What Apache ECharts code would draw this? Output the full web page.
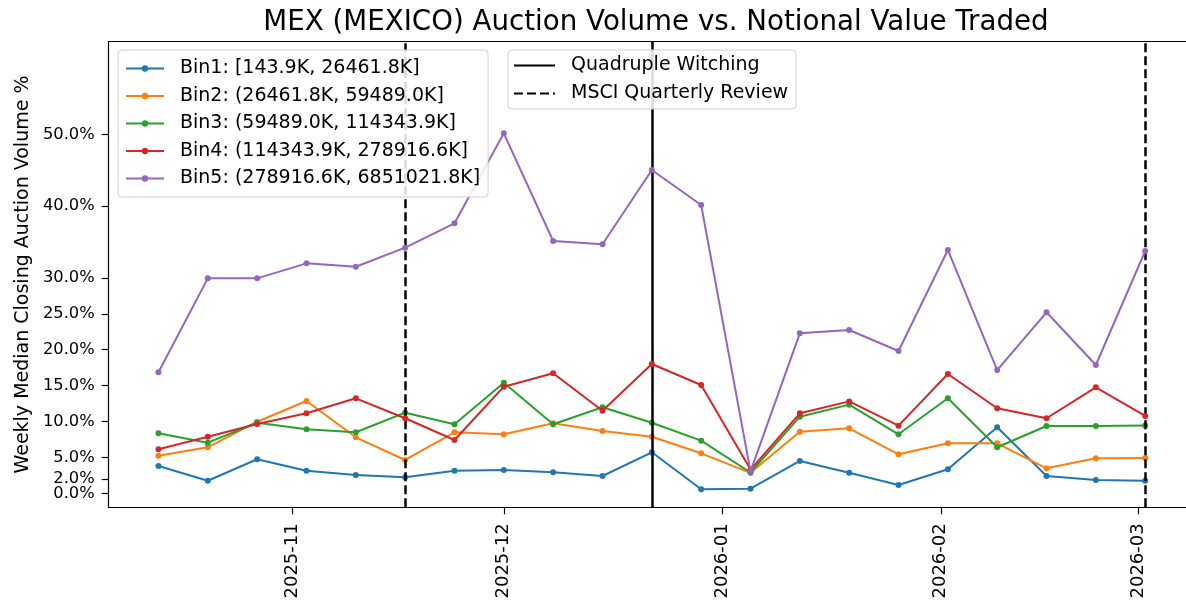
<!DOCTYPE html>
<html>
<head>
<meta charset="utf-8">
<title>MEX Auction Volume</title>
<script src="https://cdn.jsdelivr.net/npm/echarts@6/dist/echarts.min.js"></script>
<style>
  html, body { margin: 0; padding: 0; background: #fff; }
  #auction_volume_chart { width: 1186px; height: 605px; }
</style>
</head>
<body>
<div id="auction_volume_chart"></div>
<script>
// weekly dates (Mondays)
var weekDates = [
  "2025-10-13", "2025-10-20", "2025-10-27", "2025-11-03", "2025-11-10",
  "2025-11-17", "2025-11-24", "2025-12-01", "2025-12-08", "2025-12-15",
  "2025-12-22", "2025-12-29", "2026-01-05", "2026-01-12", "2026-01-19",
  "2026-01-26", "2026-02-02", "2026-02-09", "2026-02-16", "2026-02-23",
  "2026-03-02"
];

var binNames = [
  "Bin1: [143.9K, 26461.8K]",
  "Bin2: (26461.8K, 59489.0K]",
  "Bin3: (59489.0K, 114343.9K]",
  "Bin4: (114343.9K, 278916.6K]",
  "Bin5: (278916.6K, 6851021.8K]"
];

// weekly median closing auction volume, %
var bin1 = [3.80, 1.75, 4.74, 3.15, 2.55, 2.23, 3.15, 3.25, 2.92, 2.41, 5.71, 0.56, 0.65, 4.50, 2.87, 1.16, 3.34, 9.19, 2.41, 1.85, 1.75];
var bin2 = [5.24, 6.41, 9.97, 12.86, 7.80, 4.64, 8.50, 8.22, 9.75, 8.68, 7.88, 5.57, 2.85, 8.58, 9.05, 5.43, 6.96, 6.96, 3.48, 4.87, 4.92];
var bin3 = [8.36, 7.05, 9.83, 8.91, 8.50, 11.23, 9.61, 15.40, 9.61, 11.98, 9.83, 7.33, 2.90, 10.67, 12.35, 8.22, 13.23, 6.41, 9.37, 9.37, 9.45];
var bin4 = [6.13, 7.88, 9.65, 11.14, 13.23, 10.45, 7.42, 14.85, 16.71, 11.50, 18.01, 15.08, 3.30, 11.14, 12.80, 9.42, 16.62, 11.84, 10.45, 14.76, 10.77];
var bin5 = [16.85, 29.94, 29.94, 32.03, 31.56, 34.21, 37.60, 50.14, 35.14, 34.68, 45.03, 40.15, 3.05, 22.28, 22.74, 19.82, 33.89, 17.17, 25.21, 17.87, 33.75];

var quadWitchingDates = ["2025-12-22"];
var msciReviewDates = ["2025-11-17", "2026-03-02"];

var yTickValues = [0, 2, 5, 10, 15, 20, 25, 30, 40, 50];
var xTickMonths = ["2025-11-01", "2025-12-01", "2026-01-01", "2026-02-01", "2026-03-01"];

var binColors = ["#1f77b4", "#ff7f0e", "#2ca02c", "#d62728", "#9467bd"];

var DAY = 86400000;

function toTs(s) {
  var p = s.split("-");
  return Date.UTC(+p[0], +p[1] - 1, +p[2]);
}

function pad2(n) {
  return n < 10 ? "0" + n : "" + n;
}

function pctLabel(v) {
  return v.toFixed(1) + "%";
}

var FONT = "DejaVu Sans";
var allBins = [bin1, bin2, bin3, bin4, bin5];

// x range: ~7 days padding on the left, right side runs past the picture edge
var xMin = toTs(weekDates[0]) - 7.06 * DAY;
var xMax = xMin + 152.85 * DAY;
var yMin = -1.95;
var yMax = 62.9;

// 0.0% and 2.0% sit too close for echarts' min-label overlap check,
// so the 2.0% label goes on a second, invisible y axis
var yLabelsMain = yTickValues.filter(function(v) { return v !== 2; });
var yLabelsExtra = yTickValues.filter(function(v) { return v === 2; });

var series = [];
for (var i = 0; i < allBins.length; i++) {
  var pts = [];
  for (var j = 0; j < weekDates.length; j++) {
    pts.push([toTs(weekDates[j]), allBins[i][j]]);
  }
  series.push({
    name: binNames[i],
    type: "line",
    data: pts,
    color: binColors[i],
    symbol: "circle",
    symbolSize: 6,
    showSymbol: true,
    lineStyle: { width: 2 },
    z: 2 + i,
    silent: true,
    animation: false
  });
}

function eventLines(dates) {
  return dates.map(function(d) {
    return { xAxis: toTs(d) };
  });
}

var dashType = [9, 4];

// vertical event lines
series.push({
  name: "Quadruple Witching",
  type: "line",
  data: [],
  color: "#000",
  symbol: "none",
  lineStyle: { color: "#000", width: 2.5, type: "solid" },
  z: 10,
  markLine: {
    silent: true,
    symbol: "none",
    label: { show: false },
    lineStyle: { color: "#000", width: 2.5, type: "solid" },
    data: eventLines(quadWitchingDates),
    animation: false
  }
});
series.push({
  name: "MSCI Quarterly Review",
  type: "line",
  data: [],
  color: "#000",
  symbol: "none",
  lineStyle: { color: "#000", width: 2.5, type: dashType },
  z: 10,
  markLine: {
    silent: true,
    symbol: "none",
    label: { show: false },
    lineStyle: { color: "#000", width: 2.5, type: dashType },
    data: eventLines(msciReviewDates),
    animation: false
  }
});

var myChart = echarts.init(document.getElementById("auction_volume_chart"));
var option = {
  animation: false,
  backgroundColor: "#fff",
  textStyle: { fontFamily: FONT },
  title: {
    text: "MEX (MEXICO) Auction Volume vs. Notional Value Traded",
    left: 651,
    top: 4,
    textAlign: "center",
    textStyle: { fontFamily: FONT, fontSize: 27.7, fontWeight: "normal", color: "#000" }
  },
  legend: [
    {
      data: binNames,
      orient: "vertical",
      left: 118,
      top: 50,
      z: 30,
      padding: [9, 8, 9, 7],
      itemWidth: 38,
      itemHeight: 8,
      itemGap: 8.5,
      backgroundColor: "rgba(255,255,255,0.85)",
      borderColor: "#d0d0d0",
      borderWidth: 1,
      borderRadius: 4,
      selectedMode: false,
      textStyle: { fontFamily: FONT, fontSize: 19, color: "#000", padding: [0, 0, 0, 11] }
    },
    {
      data: [
        { name: "Quadruple Witching", itemStyle: { opacity: 0 } },
        { name: "MSCI Quarterly Review", itemStyle: { opacity: 0 } }
      ],
      orient: "vertical",
      left: 508,
      top: 50,
      z: 30,
      padding: [6, 8, 6, 5],
      itemWidth: 41,
      itemHeight: 8,
      itemGap: 9,
      backgroundColor: "rgba(255,255,255,0.85)",
      borderColor: "#d0d0d0",
      borderWidth: 1,
      borderRadius: 4,
      selectedMode: false,
      textStyle: { fontFamily: FONT, fontSize: 19, color: "#000", padding: [0, 0, 0, 11] }
    }
  ],
  grid: {
    left: 108.7,
    top: 41.7,
    right: 0,
    bottom: 97.7,
    show: false
  },
  xAxis: [
    {
      type: "value",
      min: xMin,
      max: xMax,
      position: "bottom",
      splitLine: { show: false },
      axisLine: { show: true, onZero: false, lineStyle: { color: "#000", width: 1.2 } },
      axisTick: {
        show: true,
        length: 7,
        lineStyle: { color: "#000", width: 1.2 },
        customValues: xTickMonths.map(toTs)
      },
      axisLabel: {
        rotate: 90,
        margin: 16,
        fontFamily: FONT,
        fontSize: 18,
        color: "#000",
        customValues: xTickMonths.map(toTs),
        formatter: function(v) {
          var d = new Date(v);
          return d.getUTCFullYear() + "-" + pad2(d.getUTCMonth() + 1);
        }
      }
    },
    {
      // top spine only
      type: "value",
      min: xMin,
      max: xMax,
      position: "top",
      splitLine: { show: false },
      axisLine: { show: true, onZero: false, lineStyle: { color: "#000", width: 1.2 } },
      axisTick: { show: false },
      axisLabel: { show: false }
    }
  ],
  yAxis: [
    {
      type: "value",
      min: yMin,
      max: yMax,
      position: "left",
      name: "Weekly Median Closing Auction Volume %",
      nameLocation: "middle",
      nameGap: 71,
      nameTextStyle: { fontFamily: FONT, fontSize: 19, color: "#000" },
      splitLine: { show: false },
      axisLine: { show: true, onZero: false, lineStyle: { color: "#000", width: 1.2 } },
      axisTick: {
        show: true,
        length: 7,
        lineStyle: { color: "#000", width: 1.2 },
        customValues: yTickValues
      },
      axisLabel: {
        margin: 14,
        fontFamily: FONT,
        fontSize: 16.3,
        color: "#000",
        showMinLabel: true,
        customValues: yLabelsMain,
        formatter: pctLabel
      }
    },
    {
      type: "value",
      min: yMin,
      max: yMax,
      position: "left",
      offset: 0,
      splitLine: { show: false },
      axisLine: { show: false, onZero: false },
      axisTick: { show: false },
      axisLabel: {
        margin: 14,
        fontFamily: FONT,
        fontSize: 16.3,
        color: "#000",
        customValues: yLabelsExtra,
        formatter: pctLabel
      }
    }
  ],
  series: series
};
myChart.setOption(option);
</script>
</body>
</html>
